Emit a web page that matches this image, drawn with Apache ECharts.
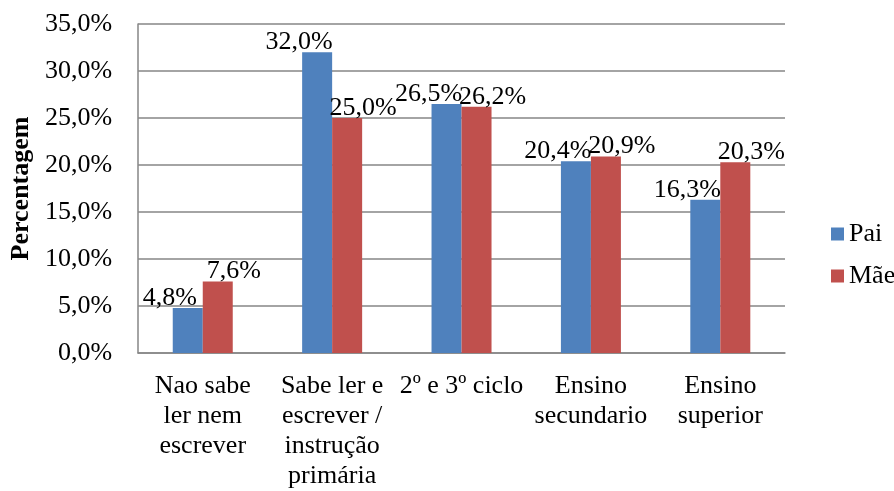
<!DOCTYPE html>
<html><head><meta charset="utf-8">
<script src="https://cdn.jsdelivr.net/npm/echarts@6/dist/echarts.min.js"></script>
<style>html,body{margin:0;padding:0;background:#fff}#c{width:894px;height:491px}</style>
</head><body><div id="c"></div>
<script>
var categories = ["Nao sabe\nler nem\nescrever", "Sabe ler e\nescrever /\ninstrução\nprimária", "2º e 3º ciclo", "Ensino\nsecundario", "Ensino\nsuperior"];
var pai = [4.8, 32.0, 26.5, 20.4, 16.3];
var mae = [7.6, 25.0, 26.2, 20.9, 20.3];
var yTicks = [0, 5, 10, 15, 20, 25, 30, 35];

var font = "'Liberation Serif','Times New Roman',serif";
function fmt(v){ return v.toFixed(1).replace('.', ',') + '%'; }
var chart = echarts.init(document.getElementById('c'));
chart.setOption({
  animation: false,
  textStyle: {fontFamily: font},
  grid: {left: 135, right: 109, top: 24, bottom: 136},
  legend: {
    orient: 'vertical', left: 826, top: 216, itemWidth: 13, itemHeight: 13, itemGap: 16,
    icon: 'rect',
    textStyle: {fontFamily: font, fontSize: 26, color: '#000'},
    data: ['Pai', 'Mãe']
  },
  xAxis: {
    type: 'category', data: categories,
    axisLine: {lineStyle: {color: '#868686', width: 1.5}},
    axisTick: {show: false},
    axisLabel: {interval: 0, color: '#000', fontFamily: font, fontSize: 26, lineHeight: 30, margin: 18}
  },
  yAxis: {
    type: 'value', min: yTicks[0], max: yTicks[yTicks.length-1], interval: 5,
    name: 'Percentagem', nameLocation: 'middle', nameGap: 100,
    nameTextStyle: {fontFamily: font, fontSize: 26, fontWeight: 'bold', color: '#000'},
    axisLine: {show: true, lineStyle: {color: '#868686', width: 1.5}},
    axisTick: {show: false},
    splitLine: {lineStyle: {color: '#868686', width: 1.5}},
    axisLabel: {color: '#000', fontFamily: font, fontSize: 26, margin: 26, formatter: function(v){ return fmt(v); }}
  },
  series: [
    {name: 'Pai', type: 'bar', data: pai, barWidth: 30, barGap: '0%',
     itemStyle: {color: '#4F81BD'},
     label: {show: true, position: 'top', distance: 0, offset: [-18, 3], color: '#000', fontFamily: font, fontSize: 26,
       formatter: function(p){ return fmt(p.value); }}},
    {name: 'Mãe', type: 'bar', data: mae, barWidth: 30,
     itemStyle: {color: '#C0504D'},
     label: {show: true, position: 'top', distance: 0, offset: [16, 3], color: '#000', fontFamily: font, fontSize: 26,
       formatter: function(p){ return fmt(p.value); }}}
  ]
});
</script></body></html>
